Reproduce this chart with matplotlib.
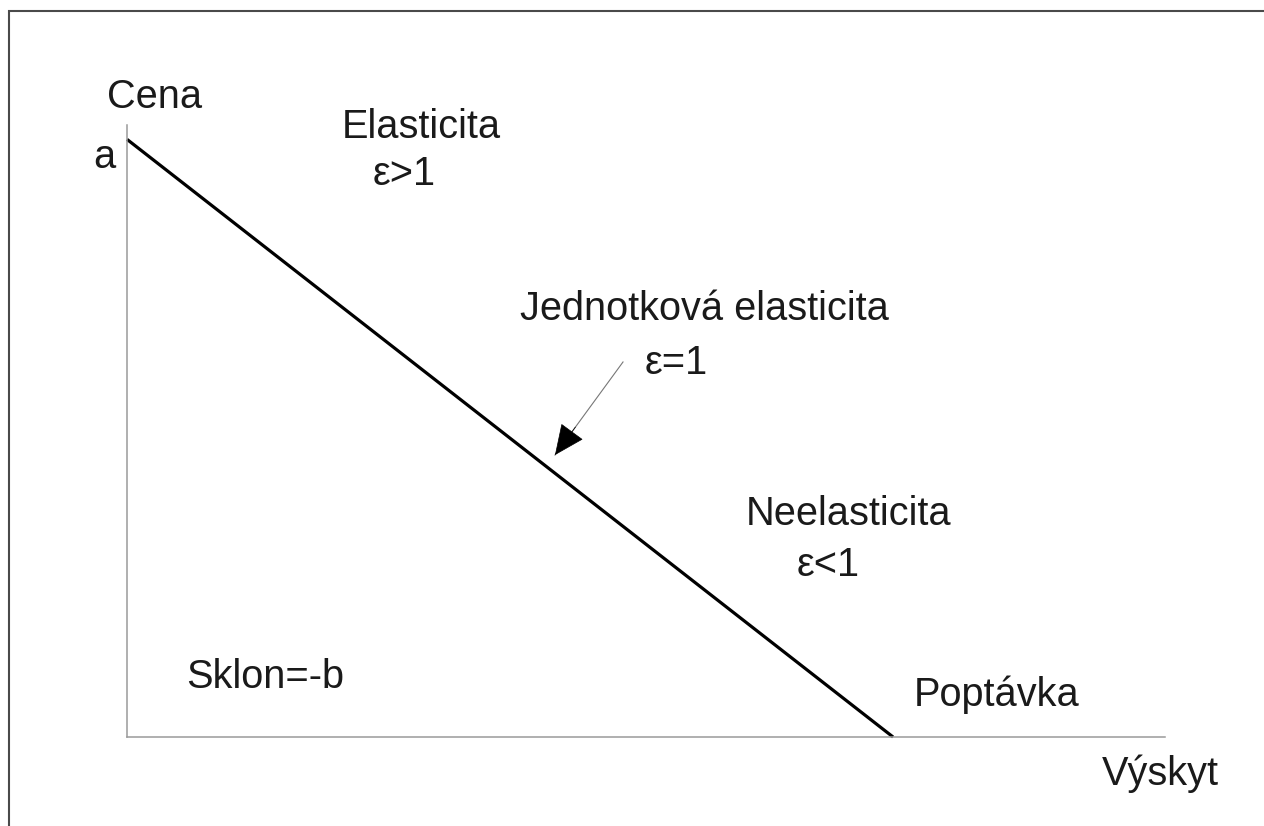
import matplotlib
matplotlib.use("Agg")
import matplotlib.pyplot as plt
from matplotlib.patches import Rectangle

plt.rcParams['font.family'] = ['Liberation Sans', 'DejaVu Sans']

W, H = 1264, 826

# demand curve: price intercept a, quantity intercept
quantity = [0.0, 10.0]
price = [10.0, 0.0]

# arrow pointing at the unit elastic point (tail, tip) in data units
arrow_tail = (6.475, 6.275)
arrow_tip = (5.587, 4.718)

labels = [
    ("Cena", 107, 108),
    ("a", 93, 168),
    ("Elasticita", 342, 138),
    ("ε>1", 373, 185),
    ("Jednotková elasticita", 520, 320),
    ("ε=1", 645, 374),
    ("Neelasticita", 746, 525),
    ("ε<1", 797, 576),
    ("Sklon=-b", 186, 688),
    ("Poptávka", 914, 706),
    ("Výskyt", 1102, 785),
]


def px(x, y):
    return x / W, 1 - y / H


fig = plt.figure(figsize=(W / 100, H / 100), dpi=100)
fig.patch.set_facecolor('white')

# outer frame (cut off at right and bottom like the scan)
x0, y0 = px(9, 11)
fig.patches.append(Rectangle((x0, -0.1), 1.2, y0 + 0.1, transform=fig.transFigure,
                             fill=False, edgecolor='#4a4a4a', linewidth=1.5))

left, bottom = px(127, 737)
right, top = px(1165, 125)
ax = fig.add_axes([left, bottom, right - left, top - bottom])
ax.set_xlim(0, 13.55)
ax.set_ylim(0, 10.24)
ax.patch.set_alpha(0)
for s in ['top', 'right']:
    ax.spines[s].set_visible(False)
for s in ['left', 'bottom']:
    ax.spines[s].set_color('#9a9a9a')
    ax.spines[s].set_linewidth(1.1)
ax.set_xticks([])
ax.set_yticks([])

ax.plot(quantity, price, color='black', linewidth=2.3, solid_capstyle='butt', clip_on=False)

# thin gray shaft with solid black head
ax.plot([arrow_tail[0], arrow_tip[0]], [arrow_tail[1], arrow_tip[1]], color='#777777', linewidth=0.8)
mid = (arrow_tip[0] + 0.3 * (arrow_tail[0] - arrow_tip[0]),
       arrow_tip[1] + 0.3 * (arrow_tail[1] - arrow_tip[1]))
ax.annotate('', xy=arrow_tip, xytext=mid,
            arrowprops=dict(arrowstyle='-|>,head_length=1.0,head_width=0.45',
                            color='black', linewidth=0.5, shrinkA=0, shrinkB=0,
                            mutation_scale=20))

for text, x, y in labels:
    fx, fy = px(x, y)
    fig.text(fx, fy, text, fontsize=28.6, color='#1a1a1a', ha='left', va='baseline')

fig.savefig('out.png', dpi=100, facecolor='white')
